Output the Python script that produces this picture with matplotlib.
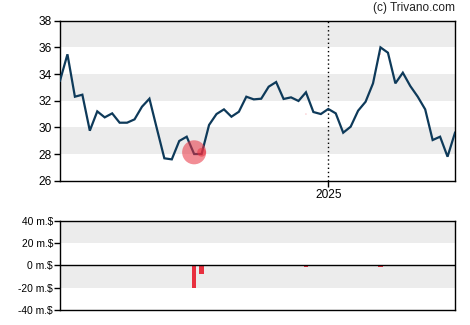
import matplotlib
matplotlib.use("Agg")
import matplotlib.pyplot as plt
import numpy as np

plt.rcParams['font.family'] = ['Liberation Sans', 'DejaVu Sans']

# Weekly closing prices
prices = [33.5, 35.48, 32.3, 32.45, 29.75, 31.2, 30.75, 31.05, 30.35, 30.35,
          30.6, 31.55, 32.15, 29.9, 27.68, 27.6, 28.98, 29.3, 28.0, 28.0,
          30.18, 31.0, 31.35, 30.8, 31.17, 32.3, 32.1, 32.15, 33.05, 33.4,
          32.13, 32.25, 31.98, 32.63, 31.15, 31.0, 31.38, 31.05, 29.6, 30.05,
          31.25, 31.92, 33.3, 36.0, 35.6, 33.3, 34.1, 33.1, 32.3, 31.35,
          29.05, 29.3, 27.8, 29.6]
year_tick_index = 36
year_tick_label = "2025"

# Insider trades (week index, price, value in m.$)
trade_idx = [18, 19, 33, 43]
trade_price = [28.13, 28.13, 31.0, 35.5]
trade_value = [-20.0, -7.8, -1.2, -1.2]
trade_marker_size = [300, 40, 0.6, 0.6]

price_ticks = [26, 28, 30, 32, 34, 36, 38]
vol_ticks = [-40, -20, 0, 20, 40]
vol_tick_labels = ["-40 m.$", "-20 m.$", "0 m.$", "20 m.$", "40 m.$"]

W, H = 470, 325
fig = plt.figure(figsize=(W / 100, H / 100), dpi=100)

x = np.arange(len(prices))
band = '#ececec'
red = '#e8303f'
navy = '#0e3a5a'

# Top panel
ax = fig.add_axes([60 / W, (H - 180.7) / H, 395 / W, 160 / H])
for lo in [28, 32, 36]:
    ax.axhspan(lo, lo + 2, color=band, zorder=0, lw=0)
ax.plot(x, prices, color=navy, lw=1.6, zorder=3, solid_joinstyle='miter')
ax.scatter(trade_idx, trade_price, s=trade_marker_size, color=red, alpha=0.55,
           lw=0, zorder=4)
ax.axvline(year_tick_index, color='black', ls=(0, (1, 2)), lw=1, zorder=2)
ax.set_xlim(0, len(prices) - 1)
ax.set_ylim(26, 38)
ax.set_yticks(price_ticks)
ax.set_xticks([year_tick_index])
ax.set_xticklabels([year_tick_label])
ax.tick_params(axis='both', direction='out', length=4, width=1, labelsize=8.6,
               colors='black', pad=2)
for s in ax.spines.values():
    s.set_linewidth(1)
    s.set_color('black')

fig.text(455 / W, 1 - 8.5 / H, "(c) Trivano.com", ha='right', va='center',
         fontsize=8.6, color='#222222')

# Bottom panel
bx = fig.add_axes([60 / W, (H - 310) / H, 395 / W, 89.3 / H])
for lo in [-20, 20]:
    bx.axhspan(lo, lo + 20, color=band, zorder=0, lw=0)
bx.bar(trade_idx, trade_value, width=0.62, color=red, zorder=3)
bx.axhline(0, color='black', lw=1, zorder=4)
bx.set_xlim(0, len(prices) - 1)
bx.set_ylim(-40, 40)
bx.set_yticks(vol_ticks)
bx.set_yticklabels(vol_tick_labels)
bx.set_xticks([])
bx.tick_params(axis='y', direction='out', length=4, width=1, labelsize=7.4,
               colors='black', pad=1)
for s in bx.spines.values():
    s.set_linewidth(1)
    s.set_color('black')

fig.savefig("out.png", dpi=100)
